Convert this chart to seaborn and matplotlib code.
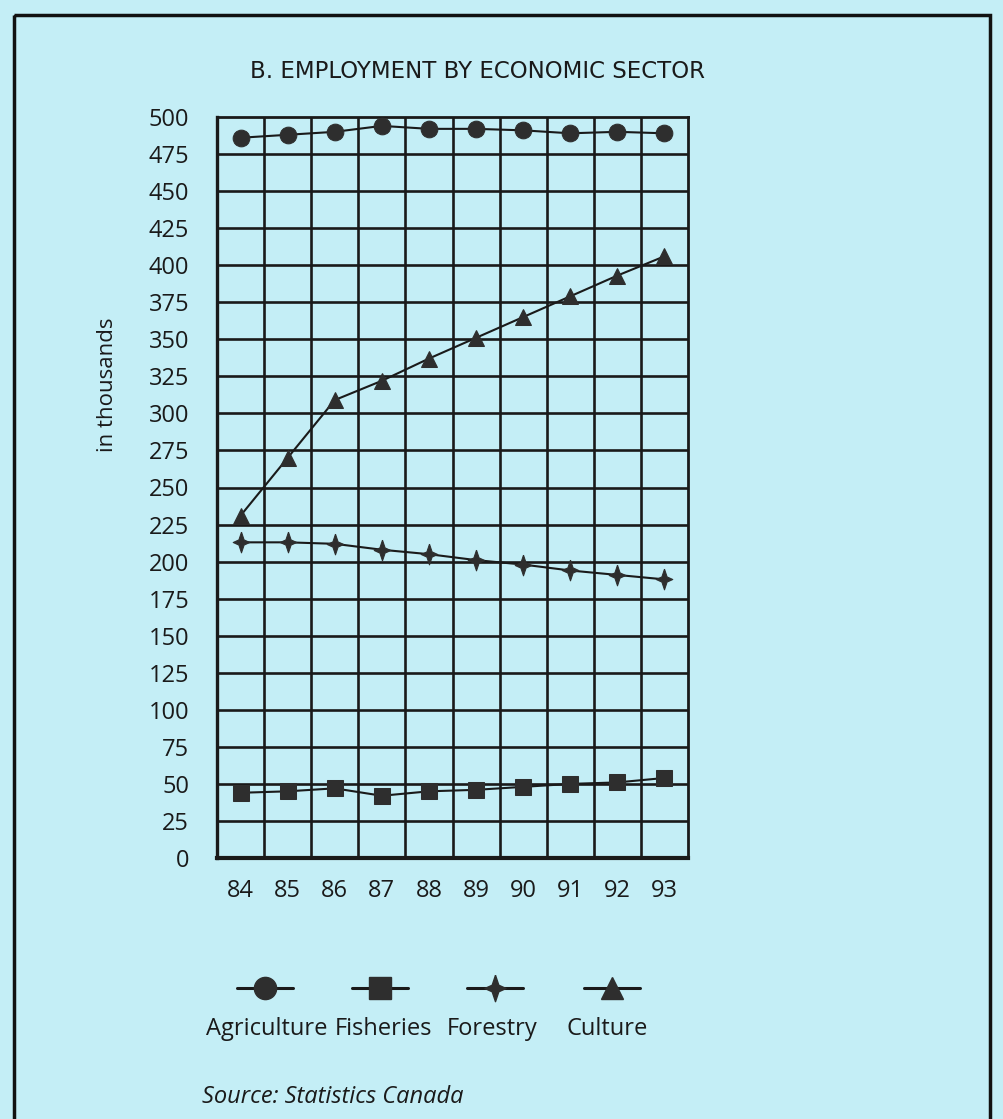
import numpy as np
import pandas as pd
import seaborn as sns
import matplotlib.pyplot as plt
from matplotlib.lines import Line2D
from matplotlib.patches import Rectangle

# Datos (miles de empleos)
anios = [84, 85, 86, 87, 88, 89, 90, 91, 92, 93]
agricultura = [486, 488, 490, 494, 492, 492, 491, 489, 490, 489]
pesca = [44, 45, 47, 42, 45, 46, 48, 50, 51, 54]
forestal = [213, 213, 212, 208, 205, 201, 198, 194, 191, 188]
cultura = [231, 270, 309, 322, 337, 351, 365, 379, 393, 406]
sectores = ['Agriculture', 'Fisheries', 'Forestry', 'Culture']

df = pd.DataFrame({
    'anio': anios * 4,
    'valor': agricultura + pesca + forestal + cultura,
    'sector': np.repeat(sectores, len(anios)),
})

fondo = '#c4eef6'
tinta = '#1a1a1a'
marca = '#2e2e2e'

# estrella de 4 puntas para Forestry
estrella = np.array([(0, 1), (0.25, 0.25), (0.8, 0), (0.25, -0.25), (0, -1),
                     (-0.25, -0.25), (-0.8, 0), (-0.25, 0.25), (0, 1)])
marcadores = {'Agriculture': 'o', 'Fisheries': 's', 'Forestry': estrella, 'Culture': '^'}
tamanos = {'Agriculture': 12, 'Fisheries': 12, 'Forestry': 15, 'Culture': 12}

sns.set_style('white')
plt.rcParams['font.family'] = ['Open Sans', 'DejaVu Sans']

fig = plt.figure(figsize=(10.04, 11.19), dpi=100, facecolor=fondo)
ax = fig.add_axes([217 / 1004, 1 - 858 / 1119, (688 - 217) / 1004, (858 - 117) / 1119])
ax.set_facecolor(fondo)

for s in sectores:
    sns.lineplot(data=df[df['sector'] == s], x='anio', y='valor', ax=ax,
                 color=tinta, linewidth=1.5, marker=marcadores[s],
                 markersize=tamanos[s], markerfacecolor=marca, markeredgecolor=marca,
                 legend=False, zorder=3)

ax.set_xlim(83.5, 93.5)
ax.set_ylim(0, 500)
ax.set_yticks(range(0, 501, 25))
ax.set_xticks(anios)
ax.set_xticklabels([str(a) for a in anios])
ax.grid(False)
for y in range(25, 500, 25):
    ax.axhline(y, color=tinta, linewidth=1.9, zorder=1)
for x in np.arange(84.5, 93.5, 1):
    ax.axvline(x, color=tinta, linewidth=1.9, zorder=1)
for lado in ['left', 'bottom', 'top', 'right']:
    ax.spines[lado].set_color(tinta)
    ax.spines[lado].set_linewidth(2.0)
ax.spines['bottom'].set_linewidth(3.0)
ax.spines['left'].set_linewidth(2.4)
ax.tick_params(axis='both', which='both', length=0, labelsize=17, colors=tinta)
ax.tick_params(axis='x', pad=15)
ax.tick_params(axis='y', pad=20)
ax.set_xlabel('')
ax.set_ylabel('')

fig.text(108 / 1004, 1 - 385 / 1119, 'in thousands', rotation=90, ha='center',
         va='center', fontsize=16, color=tinta)
fig.text(478 / 1004, 1 - 72 / 1119, 'B. EMPLOYMENT BY ECONOMIC SECTOR', ha='center',
         va='center', fontsize=16.5, color=tinta, family=['DejaVu Sans'])

# leyenda manual: símbolo arriba, texto abajo
ley = fig.add_axes([0, 0, 1, 1], facecolor='none')
ley.set_xlim(0, 1004)
ley.set_ylim(1119, 0)
ley.axis('off')
centros = [265, 380, 495, 612]
centros_txt = [267, 384, 492, 607]
for s, cx, tx in zip(sectores, centros, centros_txt):
    ley.add_line(Line2D([cx - 28, cx + 28], [988, 988], color=tinta, linewidth=2.2))
    ley.add_line(Line2D([cx], [988], marker=marcadores[s], markersize=tamanos[s] + 4,
                        markerfacecolor=marca, markeredgecolor=marca, linestyle='none'))
    ley.text(tx, 1029, s, ha='center', va='center', fontsize=17, color=tinta)

ley.text(202, 1097, 'Source: Statistics Canada', ha='left', va='center',
         fontsize=17, style='italic', color=tinta)

# marco del recuadro
ley.add_patch(Rectangle((14, 15), 976, 1200, fill=False, edgecolor='#111111', linewidth=2.5))

fig.savefig('out.png', dpi=100, facecolor=fondo)
